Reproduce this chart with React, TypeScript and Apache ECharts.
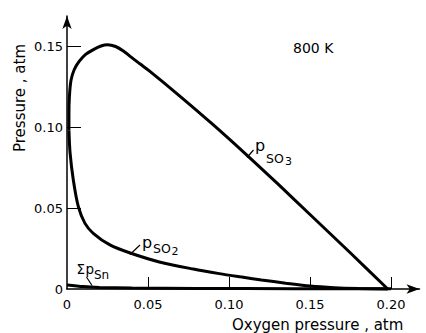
import React, { useEffect, useRef } from "react";
import * as echarts from "echarts";

// ---- data (oxygen pressure, atm -> pressure, atm) ----
const so3X = [0.0012, 0.0012, 0.0015, 0.0025, 0.0045, 0.0075, 0.0115, 0.0163, 0.021, 0.025, 0.03, 0.035, 0.039, 0.045, 0.051, 0.07, 0.09, 0.11, 0.13, 0.15, 0.175, 0.198];
const so3Y = [0.098, 0.108, 0.119, 0.129, 0.1355, 0.1405, 0.1448, 0.1478, 0.15, 0.1508, 0.1497, 0.1468, 0.1436, 0.139, 0.1345, 0.1188, 0.1016, 0.0836, 0.065, 0.046, 0.0222, 0];

const so2X = [0.0012, 0.0019, 0.0039, 0.007, 0.0111, 0.0162, 0.0265, 0.039, 0.057, 0.078, 0.094, 0.107, 0.12, 0.135, 0.15, 0.165, 0.18, 0.198];
const so2Y = [0.098, 0.084, 0.0673, 0.0508, 0.0405, 0.0344, 0.0272, 0.0222, 0.0167, 0.0123, 0.0095, 0.0075, 0.0056, 0.0036, 0.0018, 0.0008, 0.0003, 0];

const snX = [0, 0.01, 0.02, 0.04, 0.08, 0.14, 0.2];
const snY = [0.0025, 0.0015, 0.001, 0.0006, 0.0003, 0.0002, 0.0001];

const xTicks = [0, 0.05, 0.1, 0.15, 0.2];
const yTicks = [0, 0.05, 0.1, 0.15];

const X_MAX = 0.2176;
const Y_MAX = 0.1685;

const FONT = '"DejaVu Sans", sans-serif';

const pairs = (xs: number[], ys: number[]) => xs.map((x, i) => [x, ys[i]]);
const fmt = (v: number) => (Math.abs(v) < 1e-9 ? "0" : v.toFixed(2));

export default function App() {
  const ref = useRef<HTMLDivElement>(null);

  useEffect(() => {
    if (!ref.current) return;
    const chart = echarts.init(ref.current, undefined, { renderer: "svg" });
    const PX = 1620; // px per atm on both axes
    const gridLeft = 67;
    const gridBottomY = 289;

    const txt = (text: string, x: number, y: number, size: number, rotation = 0, align = "left") => ({
      type: "text",
      x,
      y,
      rotation,
      silent: true,
      style: {
        text,
        fill: "#000",
        font: `${size}px ${FONT}`,
        align,
        verticalAlign: "middle",
      },
    });
    const seg = (x1: number, y1: number, x2: number, y2: number) => ({
      type: "line",
      silent: true,
      shape: { x1, y1, x2, y2 },
      style: { stroke: "#000", lineWidth: 1.2 },
    });

    const lineSeries = (name: string, data: number[][]) => ({
      name,
      type: "line",
      data,
      smooth: 0.3,
      showSymbol: false,
      symbol: "none",
      clip: false,
      lineStyle: { color: "#000", width: 3 },
    });

    chart.setOption({
      animation: false,
      backgroundColor: "#fff",
      grid: {
        left: gridLeft,
        top: gridBottomY - Y_MAX * PX,
        width: X_MAX * PX,
        height: Y_MAX * PX,
        containLabel: false,
      },
      xAxis: {
        type: "value",
        min: 0,
        max: X_MAX,
        splitLine: { show: false },
        axisLine: {
          onZero: false,
          lineStyle: { color: "#000", width: 1.5 },
          symbol: ["none", "arrow"],
          symbolSize: [7, 13],
        },
        axisTick: {
          inside: true,
          length: 12,
          customValues: xTicks.slice(1),
          lineStyle: { color: "#000", width: 1 },
        },
        axisLabel: {
          customValues: xTicks,
          formatter: fmt,
          color: "#000",
          fontFamily: FONT,
          fontSize: 13,
          margin: 9,
        },
      },
      yAxis: {
        type: "value",
        min: 0,
        max: Y_MAX,
        splitLine: { show: false },
        axisLine: {
          onZero: false,
          lineStyle: { color: "#000", width: 1.5 },
          symbol: ["none", "arrow"],
          symbolSize: [7, 13],
        },
        axisTick: {
          inside: true,
          length: 14,
          customValues: yTicks.slice(1),
          lineStyle: { color: "#000", width: 1 },
        },
        axisLabel: {
          customValues: yTicks,
          formatter: fmt,
          color: "#000",
          fontFamily: FONT,
          fontSize: 13,
          margin: 4,
        },
      },
      series: [
        lineSeries("ΣpSn", pairs(snX, snY)),
        lineSeries("pSO2", pairs(so2X, so2Y)),
        lineSeries("pSO3", pairs(so3X, so3Y)),
      ],
      graphic: [
        txt("Pressure , atm", 19.8, 98, 15, Math.PI / 2, "center"),
        txt("Oxygen pressure , atm", 232, 324.5, 15),
        txt("800 K", 293, 48.2, 14),
        // p_SO3
        txt("p", 255, 145.5, 16),
        txt("SO", 266, 158.7, 12.5),
        txt("3", 285, 161.2, 11),
        seg(247, 157.5, 253.5, 150),
        // p_SO2
        txt("p", 142, 242.5, 16),
        txt("SO", 153, 248.7, 12.5),
        txt("2", 171.5, 251.2, 11),
        seg(130, 254.5, 140, 245),
        // Σp_Sn
        txt("Σ", 76.5, 268.6, 13.5),
        txt("p", 85.5, 268.8, 13.5),
        txt("Sn", 94, 274.5, 12),
        seg(86.5, 277, 92, 285.5),
      ],
    });

    return () => chart.dispose();
  }, []);

  return (
    <div
      ref={ref}
      style={{ position: "absolute", left: 0, top: 0, width: 426, height: 333, background: "#fff" }}
    />
  );
}
